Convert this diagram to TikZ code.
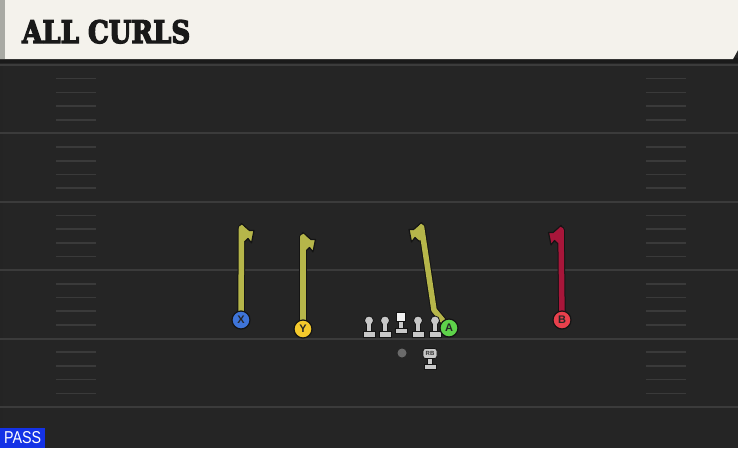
\documentclass[tikz,border=0pt]{standalone}
\usepackage{fontspec}
\usepackage{graphicx}
\newfontfamily\titlefont{DejaVu Serif}[FakeBold=4.5]
\newfontfamily\labelfont{Liberation Sans}
\definecolor{fieldbg}{HTML}{252525}
\definecolor{yardline}{HTML}{3B3B3B}
\definecolor{hashc}{HTML}{3A3A3A}
\definecolor{headerbg}{HTML}{F4F2EC}
\definecolor{headerstripe}{HTML}{A9AAA4}
\definecolor{shadowc}{HTML}{1A1A1A}
\definecolor{routeyel}{HTML}{B6B64A}
\definecolor{routered}{HTML}{A8163A}
\definecolor{outl}{HTML}{141414}
\definecolor{pblue}{HTML}{3E74D8}
\definecolor{pyellow}{HTML}{F4C92C}
\definecolor{pgreen}{HTML}{5ED24A}
\definecolor{pred}{HTML}{E8404C}
\definecolor{passblue}{HTML}{1432E6}
\definecolor{olgrey}{HTML}{C8C8C8}
\definecolor{qbgrey}{HTML}{6A6A6A}
\pgfdeclarelayer{field}
\pgfdeclarelayer{routes}
\pgfsetlayers{field,routes,main}
\tikzset{
  player/.style={circle, draw=outl, line width=1.2pt, minimum size=18pt, inner sep=0pt,
    font=\labelfont\bfseries\fontsize{11}{11}\selectfont, text=black!85},
  stemout/.style={draw=outl, line width=7.5pt, line cap=round, line join=round},
  stemin/.style={draw=#1, line width=5.5pt, line cap=round, line join=round},
  flagshape/.style={fill=#1, draw=outl, line width=1.2pt, line join=round},
  olpart/.style={fill=olgrey, draw=outl, line width=0.8pt},
  olbody/.style={fill=olgrey},
  pics/olman/.style={code={
    \filldraw[olpart] (-6,-6) rectangle (6,0);
    \filldraw[olpart] (-2.6,-14) rectangle (2.6,-6);
    \filldraw[olpart] (0,-16.5) circle (4.5pt);
    \fill[olbody] (-2.2,-14) rectangle (2.2,-5.6);
  }},
  pics/olcenter/.style={code={
    \filldraw[olpart] (-6,-5) rectangle (6,0);
    \filldraw[olpart] (-2.6,-12) rectangle (2.6,-5);
    \fill[olbody] (-2.2,-12) rectangle (2.2,-4.6);
    \filldraw[fill=white!95!black, draw=outl, line width=0.8pt] (-4.5,-21) rectangle (4.5,-12);
  }},
}
\newcommand\flagpath{(-2.8,3) -- (0,-1.5) -- (2.8,1) -- (8,5.5) -- (12.5,5.5) -- (10,18) -- (6.5,13.5) -- (2.8,17) -- (-2.8,17) -- cycle}
\begin{document}
\begin{tikzpicture}[x=1pt,y=-1pt]
\useasboundingbox (0,0) rectangle (738,448);
\begin{pgfonlayer}{field}
  \fill[fieldbg] (0,0) rectangle (738,448);
  \fill[black!3!fieldbg] (0,63) rectangle (3,448);
  \foreach \k in {0,...,5}{
    \pgfmathsetmacro\yy{65+68.4*\k}
    \draw[yardline, line width=2pt] (0,\yy) -- (738,\yy);
  }
  \foreach \k in {0,...,4}{
    \foreach \j in {1,...,4}{
      \pgfmathsetmacro\yy{65+68.4*\k+13.68*\j}
      \draw[hashc, line width=1.6pt] (56,\yy) -- (96,\yy);
      \draw[hashc, line width=1.6pt] (646,\yy) -- (686,\yy);
    }
  }
  \fill[shadowc] (0,58) rectangle (738,63);
  \fill[headerbg] (0,0) -- (738,0) -- (738,50) -- (733,59) -- (0,59) -- cycle;
  \fill[headerstripe] (0,0) rectangle (5,59);
\end{pgfonlayer}

\node[anchor=base west, inner sep=0pt, text=black!90] (title) at (22,43)
  {\resizebox{168pt}{23pt}{\titlefont\bfseries ALL CURLS}};

\node[fill=passblue, anchor=south west, inner sep=0pt, minimum width=45pt, minimum height=20pt,
  text=white] (pass) at (0,448) {\resizebox{37pt}{12pt}{\labelfont PASS}};

% players
\node[player, fill=pblue] (X) at (241,320) {X};
\node[player, fill=pyellow] (Y) at (303,329) {Y};
\node[player, fill=pred] (B) at (562,320) {B};

\coordinate (xtop) at (241.5,228);
\coordinate (ytop) at (303,237);
\coordinate (atop) at (421.5,227);
\coordinate (abend) at (434,310);
\coordinate (btop) at (561,230);
\coordinate (astart) at (449,328);

\begin{pgfonlayer}{routes}
  % X
  \draw[stemout] (X.center) -- (xtop);
  \begin{scope}[shift={(241.5,225)}] \filldraw[flagshape=routeyel] \flagpath; \end{scope}
  \draw[stemin=routeyel] (X.center) -- (xtop);
  % Y
  \draw[stemout] (Y.center) -- (ytop);
  \begin{scope}[shift={(303,234)}] \filldraw[flagshape=routeyel] \flagpath; \end{scope}
  \draw[stemin=routeyel] (Y.center) -- (ytop);
  % A
  \draw[stemout] (astart) -- (abend) -- (atop);
  \begin{scope}[shift={(421.5,224)}, xscale=-1] \filldraw[flagshape=routeyel] \flagpath; \end{scope}
  \draw[stemin=routeyel] (astart) -- (abend) -- (atop);
  % B
  \draw[stemout] (B.center) -- (btop);
  \begin{scope}[shift={(561,227)}, xscale=-1] \filldraw[flagshape=routered] \flagpath; \end{scope}
  \draw[stemin=routered] (B.center) -- (btop);
\end{pgfonlayer}

% offensive line
\pic (lt) at (369,337) {olman};
\pic (lg) at (385,337) {olman};
\pic (c) at (401,333) {olcenter};
\pic (rg) at (418,337) {olman};
\pic (rt) at (435,337) {olman};
\node[player, fill=pgreen] (A) at (astart) {A};

% QB and RB
\node[circle, fill=qbgrey, minimum size=9pt, inner sep=0pt] (QB) at (402,353) {};
\filldraw[olpart] (424,364) rectangle (436,369);
\filldraw[olpart] (427.5,357) rectangle (432.5,364);
\fill[olbody] (427.9,357) rectangle (432.1,364.4);
\node[draw=outl, fill=olgrey, line width=0.8pt, rounded corners=2.5pt, minimum width=14pt,
  minimum height=10pt, inner sep=0pt, font=\labelfont\bfseries\fontsize{6}{6}\selectfont,
  text=black!80] (RB) at (430,353.5) {RB};
\end{tikzpicture}
\end{document}
